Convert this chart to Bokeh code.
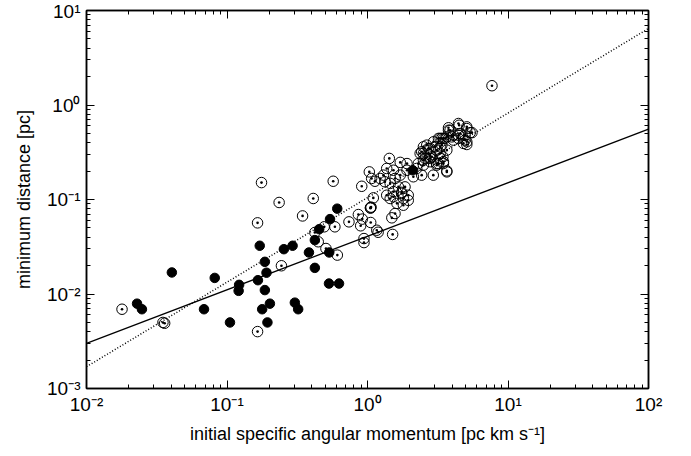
from bokeh.plotting import figure
from bokeh.models import LogAxis, FixedTicker, CustomJSTickFormatter, Range1d
from bokeh.embed import file_html
from bokeh.resources import INLINE

# open circles (dotted circle markers)
open_x = [0.0179, 0.035, 0.036, 0.176, 0.570, 0.235, 0.411, 0.345, 0.165, 0.492,
          0.586, 0.738, 0.422, 0.446, 0.506, 0.610, 0.244, 0.165,
          1.05, 1.06, 1.05, 1.10, 0.91, 0.861, 0.918, 0.894, 1.054, 1.164, 1.19,
          0.944, 0.944, 1.49, 1.57, 1.51, 1.43, 1.71, 1.03, 1.07, 1.13, 1.37,
          1.53, 1.80, 1.95, 1.75, 2.94, 3.67,
          1.33, 1.45, 1.57, 1.71, 1.66, 1.85, 1.75, 1.53, 1.91, 2.24, 2.12, 2.43,
          2.30, 2.57, 2.71, 2.50, 2.79, 3.11, 3.20, 3.47, 3.29, 3.47, 3.11, 3.29,
          2.79, 2.50, 3.67, 1.45, 1.62, 1.80, 1.95, 1.23, 1.30, 1.37, 1.53, 1.91,
          2.37, 2.64, 2.95, 2.50, 2.87, 3.29, 3.20, 3.77, 4.44, 4.57, 5.09, 4.95,
          4.09, 3.29, 3.03, 3.38, 2.79, 2.43, 3.77, 5.09, 5.38, 4.82, 5.09, 4.44,
          3.98, 3.57, 2.50, 2.79, 3.11,
          7.69, 4.49, 5.54, 4.95, 4.44, 5.09, 4.09, 3.87, 3.67, 3.38, 3.67, 3.44, 3.47]
open_y = [0.0069, 0.0050, 0.0049, 0.151, 0.156, 0.093, 0.1025, 0.067, 0.0566, 0.0514,
          0.0514, 0.058, 0.0448, 0.0357, 0.0303, 0.0258, 0.0199, 0.0040,
          0.082, 0.083, 0.081, 0.104, 0.138, 0.0693, 0.062, 0.0527, 0.0571, 0.0473, 0.045,
          0.0386, 0.035, 0.064, 0.071, 0.0427, 0.272, 0.247, 0.196, 0.167, 0.156, 0.111,
          0.107, 0.1025, 0.098, 0.119, 0.181, 0.196,
          0.154, 0.148, 0.167, 0.181, 0.136, 0.136, 0.116, 0.121, 0.204, 0.213, 0.174, 0.181,
          0.240, 0.272, 0.347, 0.307, 0.295, 0.333, 0.443, 0.443, 0.361, 0.251, 0.231, 0.272,
          0.251, 0.231, 0.333, 0.1025, 0.091, 0.087, 0.111, 0.167, 0.181, 0.213, 0.204, 0.240,
          0.307, 0.376, 0.408, 0.261, 0.283, 0.307, 0.240, 0.540, 0.637, 0.499, 0.563, 0.425,
          0.425, 0.443, 0.361, 0.376, 0.347, 0.320, 0.574, 0.587, 0.510, 0.392, 0.408, 0.479,
          0.460, 0.443, 0.361, 0.272, 0.240,
          1.60, 0.61, 0.51, 0.479, 0.443, 0.382, 0.479, 0.540, 0.460, 0.443, 0.201, 0.283, 0.240]

# filled circles
filled_x = [0.0229, 0.0248, 0.0405, 0.0686, 0.0818, 0.105, 0.122, 0.121, 0.609, 0.541,
            0.453, 0.422, 0.534, 0.383, 0.171, 0.254, 0.293, 0.186, 0.422, 0.191,
            0.166, 0.186, 0.202, 0.178, 0.304, 0.321, 0.194, 0.532, 0.627, 2.10]
filled_y = [0.0079, 0.0069, 0.0169, 0.0069, 0.0148, 0.0050, 0.0125, 0.0108, 0.080, 0.062,
            0.0485, 0.0372, 0.0275, 0.0275, 0.0324, 0.0298, 0.0324, 0.0219, 0.0189, 0.0168,
            0.0140, 0.0110, 0.0079, 0.0069, 0.0081, 0.0069, 0.0050, 0.0129, 0.0129, 0.204]

# fitted power laws
fit_x = [0.01, 100.0]
solid_y = [0.0030, 0.555]
dotted_y = [0.0017, 6.45]

x_major = [0.01, 0.1, 1, 10, 100]
y_major = [0.001, 0.01, 0.1, 1, 10]
x_minor = [k * 10.0 ** n for n in range(-2, 2) for k in range(2, 10)]
y_minor = [k * 10.0 ** n for n in range(-3, 1) for k in range(2, 10)]

FONT = "Liberation Sans"

p = figure(x_axis_type="log", y_axis_type="log",
           x_range=Range1d(0.01, 100), y_range=Range1d(0.001, 10),
           frame_width=562, frame_height=378,
           min_border_left=86, min_border_right=30, min_border_top=10, min_border_bottom=56,
           output_backend="svg", toolbar_location=None)
p.grid.visible = False
p.outline_line_color = "black"
p.outline_line_width = 1.5
p.background_fill_color = "white"
p.border_fill_color = "white"

sup_fmt = CustomJSTickFormatter(code="""
const e = Math.round(Math.log10(tick));
const sup = {'-':'\u207b','0':'\u2070','1':'\u00b9','2':'\u00b2','3':'\u00b3'};
return '10' + String(e).split('').map(c => sup[c]).join('');
""")
blank_fmt = CustomJSTickFormatter(code="return '';")

def style(ax, labels=True):
    ax.axis_line_color = "black"
    ax.axis_line_width = 1.5
    ax.major_tick_in = 8
    ax.major_tick_out = 0
    ax.minor_tick_in = 4
    ax.minor_tick_out = 0
    ax.major_tick_line_width = 1
    ax.minor_tick_line_width = 1
    ax.major_tick_line_color = "black"
    ax.minor_tick_line_color = "black"
    if labels:
        ax.formatter = sup_fmt
        ax.major_label_text_font = FONT
        ax.major_label_text_font_size = "19px"
        ax.major_label_text_color = "black"
        ax.axis_label_text_font = FONT
        ax.axis_label_text_font_size = "18px"
        ax.axis_label_text_font_style = "normal"
        ax.axis_label_text_color = "black"
    else:
        ax.formatter = blank_fmt
        ax.major_label_standoff = 0

xa = p.xaxis[0]
ya = p.yaxis[0]
xa.ticker = FixedTicker(ticks=x_major, minor_ticks=x_minor)
ya.ticker = FixedTicker(ticks=y_major, minor_ticks=y_minor)
style(xa)
style(ya)
xa.axis_label = "initial specific angular momentum [pc km s\u207b\u00b9]"
ya.axis_label = "minimum distance [pc]"
xa.major_label_standoff = 5
ya.major_label_standoff = 6
xa.axis_label_standoff = 6
ya.axis_label_standoff = 10

top = LogAxis(ticker=FixedTicker(ticks=x_major, minor_ticks=x_minor))
right = LogAxis(ticker=FixedTicker(ticks=y_major, minor_ticks=y_minor))
style(top, labels=False)
style(right, labels=False)
p.add_layout(top, "above")
p.add_layout(right, "right")

p.line(fit_x, solid_y, line_color="black", line_width=1.3)
p.line(fit_x, dotted_y, line_color="black", line_width=1.5, line_dash="1 2")

p.scatter(open_x, open_y, marker="circle_dot", size=10.5, fill_color=None,
          line_color="black", line_width=1)
p.scatter(filled_x, filled_y, marker="circle", size=9.5, fill_color="black",
          line_color="black")

open("out.html", "w", encoding="utf-8").write(file_html(p, INLINE))
